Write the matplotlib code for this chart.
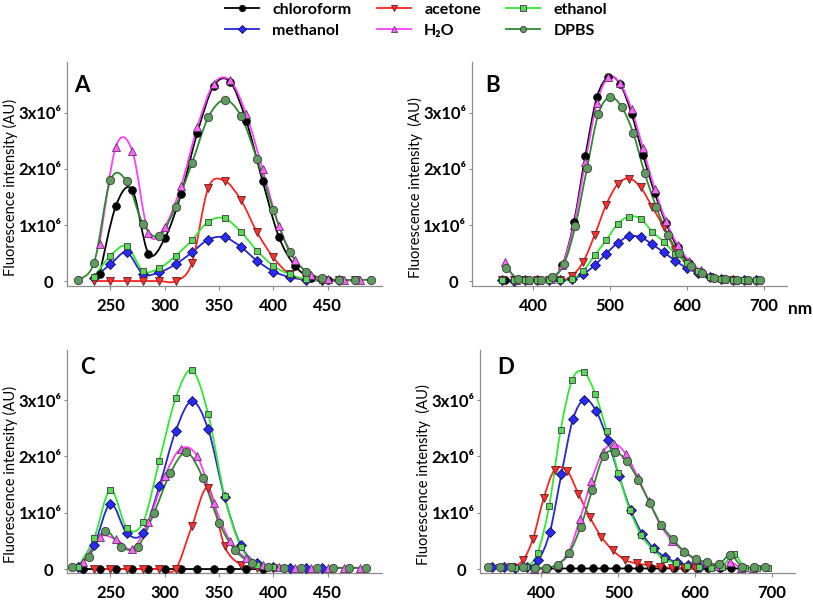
import numpy as np
import matplotlib
matplotlib.use("Agg")
import matplotlib.pyplot as plt
from matplotlib.path import Path
from matplotlib.patches import PathPatch
from matplotlib.lines import Line2D

plt.rcParams['font.family'] = ['Lato', 'DejaVu Sans']

# values in 10^6 AU

# ---- panel A ----
A_chl_x = [240, 255, 270, 285, 300, 315, 330, 345, 360, 375, 390, 405, 420, 435, 450]
A_chl_y = [0.12, 1.34, 1.63, 0.49, 0.76, 1.55, 2.65, 3.48, 3.56, 2.86, 1.79, 0.79, 0.27, 0.05, 0.02]
A_met_x = [235, 250, 265, 280, 295, 310, 325, 340, 355, 370, 385, 400, 415, 430, 445, 460]
A_met_y = [0.06, 0.30, 0.51, 0.125, 0.155, 0.30, 0.51, 0.74, 0.78, 0.61, 0.36, 0.17, 0.07, 0.02, 0.01, 0.01]
A_ace_x = [235, 250, 265, 280, 295, 310, 325, 340, 355, 370, 385, 400, 415, 430, 445, 460, 475]
A_ace_y = [0.0, 0.0, 0.0, 0.0, 0.0, 0.0, 0.32, 1.66, 1.79, 1.45, 0.87, 0.42, 0.12, 0.03, 0.01, 0.01, 0.01]
A_h2o_x = [240, 255, 270, 285, 300, 315, 330, 345, 360, 375, 390, 405, 420, 435, 450, 465, 480]
A_h2o_y = [0.66, 2.40, 2.33, 0.85, 0.97, 1.70, 2.75, 3.52, 3.58, 2.98, 2.00, 0.99, 0.38, 0.11, 0.03, 0.02, 0.02]
A_eth_x = [235, 250, 265, 280, 295, 310, 325, 340, 355, 370, 385, 400, 415, 430, 445]
A_eth_y = [0.08, 0.45, 0.625, 0.18, 0.23, 0.45, 0.73, 1.06, 1.12, 0.88, 0.54, 0.27, 0.12, 0.03, 0.01]
A_dpbs_x = [220, 235, 250, 265, 280, 295, 310, 325, 340, 355, 370, 385, 400, 415, 430, 445, 460, 475, 490]
A_dpbs_y = [0.02, 0.33, 1.80, 1.78, 1.02, 0.80, 1.33, 2.10, 2.92, 3.23, 2.95, 2.17, 1.27, 0.52, 0.17, 0.05, 0.02, 0.02, 0.02]

# ---- panel B ----
B_chl_x = [363, 378, 393, 408, 423, 438, 453, 468, 483, 498, 513, 528, 543, 558, 573, 588, 603, 618, 633, 648, 663, 678, 693]
B_chl_y = [0.02, 0.01, 0.01, 0.01, 0.03, 0.28, 1.05, 2.24, 3.28, 3.64, 3.52, 2.99, 2.25, 1.58, 1.03, 0.60, 0.33, 0.17, 0.07, 0.03, 0.01, 0.01, 0.01]
B_met_x = [360, 375, 390, 405, 420, 435, 450, 465, 480, 495, 510, 525, 540, 555, 570, 585, 600, 615, 630, 645, 660, 675, 690]
B_met_y = [0.01, 0.0, 0.01, 0.01, 0.01, 0.01, 0.03, 0.12, 0.28, 0.49, 0.68, 0.80, 0.78, 0.655, 0.51, 0.365, 0.23, 0.14, 0.07, 0.03, 0.01, 0.01, 0.01]
B_ace_x = [360, 375, 390, 405, 420, 435, 450, 465, 480, 495, 510, 525, 540, 555, 570, 585, 600, 615, 630, 645, 660]
B_ace_y = [0.01, 0.01, 0.01, 0.01, 0.01, 0.01, 0.09, 0.34, 0.82, 1.36, 1.73, 1.83, 1.67, 1.32, 0.96, 0.55, 0.30, 0.14, 0.06, 0.02, 0.01]
B_h2o_x = [363, 378, 393, 408, 423, 438, 453, 468, 483, 498, 513, 528, 543, 558, 573, 588, 603, 618, 633, 648, 663, 678, 693]
B_h2o_y = [0.34, 0.02, 0.01, 0.01, 0.04, 0.28, 1.00, 2.13, 3.18, 3.64, 3.53, 3.07, 2.37, 1.65, 1.07, 0.64, 0.36, 0.19, 0.08, 0.03, 0.02, 0.01, 0.01]
B_eth_x = [360, 375, 390, 405, 420, 435, 450, 465, 480, 495, 510, 525, 540, 555, 570, 585, 600, 615, 630, 645, 660, 675, 690]
B_eth_y = [0.01, 0.01, 0.01, 0.01, 0.01, 0.01, 0.03, 0.18, 0.46, 0.73, 1.02, 1.15, 1.11, 0.88, 0.70, 0.49, 0.33, 0.18, 0.08, 0.03, 0.01, 0.01, 0.01]
B_dpbs_x = [365, 380, 395, 410, 425, 440, 455, 470, 485, 500, 515, 530, 545, 560, 575, 590, 605, 620, 635, 650, 665, 680, 695]
B_dpbs_y = [0.24, 0.04, 0.02, 0.01, 0.07, 0.30, 0.99, 2.01, 2.99, 3.28, 3.11, 2.65, 1.93, 1.33, 0.83, 0.50, 0.27, 0.15, 0.06, 0.03, 0.02, 0.01, 0.01]

# ---- panel C ----
C_chl_x = [225, 240, 255, 270, 285, 300, 315, 330, 345, 360, 375, 390]
C_chl_y = [0.0, 0.0, 0.0, 0.0, 0.0, 0.0, 0.0, 0.0, 0.0, 0.0, 0.0, 0.0]
C_met_x = [220, 235, 250, 265, 280, 295, 310, 325, 340, 355, 370, 385, 400, 415, 430, 445]
C_met_y = [0.03, 0.43, 1.16, 0.64, 0.64, 1.47, 2.45, 2.98, 2.48, 1.28, 0.42, 0.10, 0.04, 0.02, 0.02, 0.02]
C_ace_x = [235, 250, 265, 280, 295, 310, 325, 340, 355, 370, 385, 400]
C_ace_y = [0.0, 0.0, 0.0, 0.0, 0.0, 0.0, 0.76, 1.44, 0.41, 0.08, 0.02, 0.01]
C_h2o_x = [225, 240, 255, 270, 285, 300, 315, 330, 345, 360, 375, 390, 405, 420, 435, 450, 465, 480]
C_h2o_y = [0.12, 0.57, 0.53, 0.36, 0.84, 1.65, 2.14, 2.00, 1.17, 0.50, 0.19, 0.07, 0.03, 0.02, 0.02, 0.02, 0.02, 0.02]
C_eth_x = [220, 235, 250, 265, 280, 295, 310, 325, 340, 355, 370, 385, 400]
C_eth_y = [0.03, 0.55, 1.41, 0.73, 0.83, 1.92, 3.03, 3.53, 2.75, 1.30, 0.40, 0.08, 0.03]
C_dpbs_x = [215, 230, 245, 260, 275, 290, 305, 320, 335, 350, 365, 380, 395, 410, 425, 440, 455, 470, 485]
C_dpbs_y = [0.03, 0.22, 0.68, 0.39, 0.39, 0.99, 1.70, 2.07, 1.62, 0.82, 0.33, 0.11, 0.04, 0.02, 0.02, 0.02, 0.02, 0.02, 0.02]

# ---- panel D ----
D_chl_x = [392, 407, 422, 437, 452, 467, 482, 497, 512, 527, 542, 557, 572, 587, 602, 617, 632, 647, 662]
D_chl_y = [0.01] * 19
D_met_x = [336, 351, 366, 381, 396, 411, 426, 441, 456, 471, 486, 501, 516, 531, 546, 561, 576, 591, 606]
D_met_y = [0.03, 0.03, 0.02, 0.03, 0.16, 0.66, 1.69, 2.66, 3.01, 2.81, 2.30, 1.65, 1.05, 0.63, 0.37, 0.21, 0.12, 0.07, 0.03]
D_ace_x = [346, 361, 376, 389, 403, 417, 433, 448, 463, 478, 493, 509, 524, 539, 554, 570, 585, 600]
D_ace_y = [0.02, 0.03, 0.16, 0.54, 1.26, 1.76, 1.75, 1.34, 0.92, 0.57, 0.33, 0.16, 0.10, 0.07, 0.04, 0.02, 0.01, 0.01]
D_h2o_x = [390, 405, 420, 435, 450, 465, 480, 495, 510, 525, 540, 555, 570, 585, 600, 615, 630, 645, 660, 675]
D_h2o_y = [0.0, 0.01, 0.08, 0.29, 0.88, 1.57, 2.08, 2.22, 2.04, 1.64, 1.20, 0.78, 0.50, 0.32, 0.17, 0.10, 0.06, 0.13, 0.02, 0.01]
D_eth_x = [365, 380, 395, 410, 425, 440, 455, 470, 485, 500, 515, 530, 545, 560, 575, 590, 605, 620, 635, 650, 665, 680, 695]
D_eth_y = [0.02, 0.03, 0.29, 1.12, 2.47, 3.36, 3.50, 3.11, 2.45, 1.70, 1.05, 0.60, 0.35, 0.18, 0.10, 0.05, 0.03, 0.02, 0.04, 0.27, 0.02, 0.01, 0.01]
D_dpbs_x = [331, 346, 361, 376, 391, 406, 421, 436, 451, 466, 481, 496, 511, 526, 541, 556, 571, 586, 601, 616, 631, 646, 661, 676, 691]
D_dpbs_y = [0.03, 0.03, 0.03, 0.03, 0.02, 0.02, 0.08, 0.28, 0.75, 1.40, 2.01, 2.08, 1.92, 1.58, 1.17, 0.78, 0.53, 0.31, 0.18, 0.12, 0.09, 0.25, 0.04, 0.03, 0.03]

labels = ['chloroform', 'methanol', 'acetone', 'H\u2082O', 'ethanol', 'DPBS']
line_colors = ['#000000', '#2626d4', '#ff2424', '#ff40ff', '#33e633', '#2e8a2e']
face_colors = ['#000000', '#2a2aff', '#ff3030', '#ff66ff', '#5ad65a', '#5f9a5f']
edge_colors = ['#000000', '#101040', '#5a2020', '#603060', '#3a3a3a', '#3a3a3a']
markers = ['o', 'D', 'v', '^', 's', 'o']
msizes = [5.5, 5.0, 5.5, 5.5, 4.8, 6.0]

panels = {
    'A': [(A_chl_x, A_chl_y), (A_met_x, A_met_y), (A_ace_x, A_ace_y),
          (A_h2o_x, A_h2o_y), (A_eth_x, A_eth_y), (A_dpbs_x, A_dpbs_y)],
    'B': [(B_chl_x, B_chl_y), (B_met_x, B_met_y), (B_ace_x, B_ace_y),
          (B_h2o_x, B_h2o_y), (B_eth_x, B_eth_y), (B_dpbs_x, B_dpbs_y)],
    'C': [(C_chl_x, C_chl_y), (C_met_x, C_met_y), (C_ace_x, C_ace_y),
          (C_h2o_x, C_h2o_y), (C_eth_x, C_eth_y), (C_dpbs_x, C_dpbs_y)],
    'D': [(D_chl_x, D_chl_y), (D_met_x, D_met_y), (D_ace_x, D_ace_y),
          (D_h2o_x, D_h2o_y), (D_eth_x, D_eth_y), (D_dpbs_x, D_dpbs_y)],
}


def smooth_line(ax, x, y, color, z):
    # excel style smoothed line: catmull-rom segments as bezier curves
    x = np.asarray(x, float)
    y = np.asarray(y, float)
    px = np.r_[x[0], x, x[-1]]
    py = np.r_[y[0], y, y[-1]]
    verts = [(x[0], y[0])]
    codes = [Path.MOVETO]
    for k in range(len(x) - 1):
        c1 = (px[k+1] + (px[k+2] - px[k]) / 6, py[k+1] + (py[k+2] - py[k]) / 6)
        c2 = (px[k+2] - (px[k+3] - px[k+1]) / 6, py[k+2] - (py[k+3] - py[k+1]) / 6)
        verts += [c1, c2, (px[k+2], py[k+2])]
        codes += [Path.CURVE4] * 3
    ax.add_patch(PathPatch(Path(verts, codes), fill=False, edgecolor=color,
                           lw=1.3, zorder=z))


fig = plt.figure(figsize=(8.13, 6.02), dpi=100)

boxes = {'A': [0.0824, 0.5249, 0.3875, 0.3721],
         'B': [0.5802, 0.5249, 0.3875, 0.3721],
         'C': [0.0824, 0.0482, 0.3875, 0.3704],
         'D': [0.5904, 0.0482, 0.3875, 0.3704]}
xlims = {'A': (210, 500), 'B': (320, 730), 'C': (210, 500), 'D': (320, 730)}
ylims = {'A': (-0.089, 3.91), 'B': (-0.089, 3.91), 'C': (-0.07, 3.89), 'D': (-0.07, 3.89)}
xticks = {'A': [250, 300, 350, 400, 450], 'B': [400, 500, 600, 700],
          'C': [250, 300, 350, 400, 450], 'D': [400, 500, 600, 700]}
letter_pos = {'A': (0.022, 0.94), 'B': (0.042, 0.94), 'C': (0.041, 0.97), 'D': (0.054, 0.97)}
ylab = {'A': 'Fluorescence intensity (AU)', 'B': 'Fluorescence intensity  (AU)',
        'C': 'Fluorescence intensity (AU)', 'D': 'Fluorescence intensity  (AU)'}

for name, series in panels.items():
    ax = fig.add_axes(boxes[name])
    for i, (sx, sy) in enumerate(series):
        smooth_line(ax, sx, sy, line_colors[i], 2 + i * 0.1)
        ax.plot(sx, sy, linestyle='none', marker=markers[i], ms=msizes[i],
                mfc=face_colors[i], mec=edge_colors[i], mew=0.6, zorder=3 + i * 0.1)
    ax.set_xlim(*xlims[name])
    ax.set_ylim(*ylims[name])
    ax.set_xticks(xticks[name])
    ax.set_yticks([0, 1, 2, 3])
    ax.set_yticklabels(['0  ', '1x10\u2076', '2x10\u2076', '3x10\u2076'])
    for s in ['top', 'right']:
        ax.spines[s].set_visible(False)
    for s in ['left', 'bottom']:
        ax.spines[s].set_color('#8c8c8c')
        ax.spines[s].set_linewidth(0.9)
    ax.tick_params(axis='x', length=3, width=0.8, color='#8c8c8c', pad=5.5, labelsize=12)
    ax.tick_params(axis='y', length=2, width=0.8, color='#8c8c8c', pad=2, labelsize=12)
    for t in ax.get_xticklabels() + ax.get_yticklabels():
        t.set_fontweight('bold')
    ax.set_ylabel(ylab[name], fontsize=10.5)
    ax.yaxis.set_label_coords(-0.155, 0.44)
    ax.text(letter_pos[name][0], letter_pos[name][1], name, transform=ax.transAxes,
            fontsize=16, fontweight='bold', ha='left', va='top')

fig.text(0.984, 0.487, 'nm', fontsize=12.5, fontweight='bold', ha='center', va='center')

handles = [Line2D([0], [0], color=line_colors[i], lw=1.3, marker=markers[i], ms=4.5,
                  mfc=face_colors[i], mec=edge_colors[i], mew=0.6) for i in range(6)]
fig.legend(handles, labels, ncol=3, loc='upper center', bbox_to_anchor=(0.512, 1.02),
           frameon=False, handlelength=2.1, handletextpad=0.85, columnspacing=1.6,
           labelspacing=0.45, prop={'weight': 'bold', 'size': 11.5})

fig.savefig('out.png', dpi=100)
